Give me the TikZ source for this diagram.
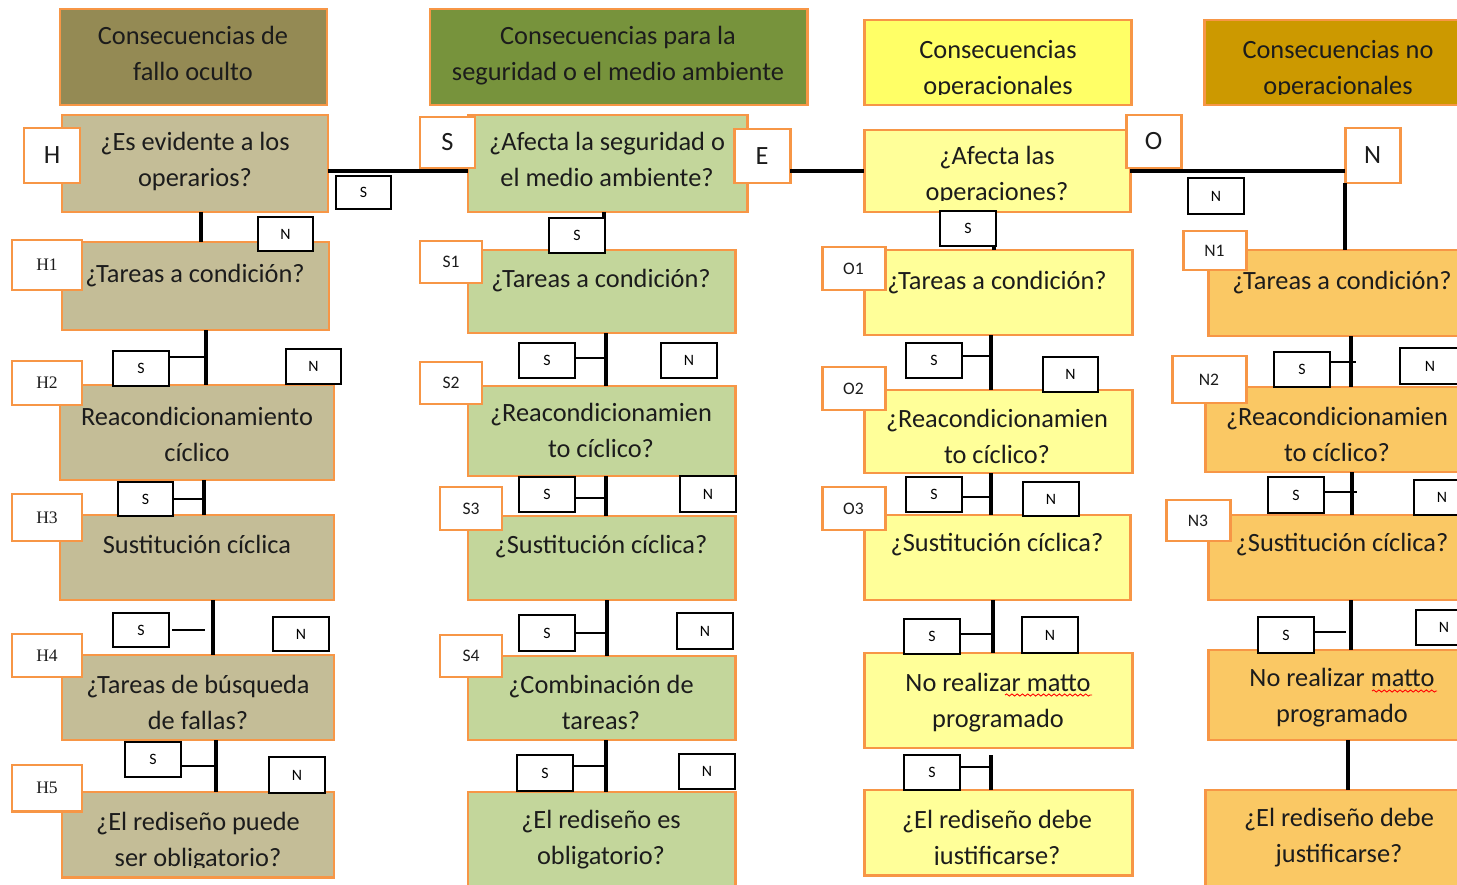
\documentclass[tikz,border=0pt]{standalone}
\usepackage{fontspec}
\setmainfont{Carlito}
\newfontfamily\lblserif{Liberation Serif}
\usetikzlibrary{decorations.pathmorphing}
\definecolor{borderor}{HTML}{F79646}
\definecolor{hhc}{HTML}{948A54}
\definecolor{hbc}{HTML}{C4BD97}
\definecolor{shc}{HTML}{77933C}
\definecolor{sbc}{HTML}{C3D69B}
\definecolor{ohc}{HTML}{FFFF66}
\definecolor{obc}{HTML}{FFFF99}
\definecolor{nhc}{HTML}{CC9900}
\definecolor{nbc}{HTML}{FAC864}
\definecolor{txtc}{HTML}{1C1C1C}
\tikzset{
 rb/.style={draw=borderor, line width=1.7pt, inner sep=0pt, outer sep=0pt},
 lbl/.style={rb, fill=white, font=\fontsize{15}{18}\selectfont, text=txtc},
 slbl/.style={rb, fill=white, font=\fontsize{10}{12}\selectfont, text=txtc},
 hlbl/.style={rb, fill=white, font=\lblserif\fontsize{10}{12}\selectfont, text=txtc},
 yn/.style={draw=black, line width=0.8pt, fill=white, inner sep=0pt, outer sep=0pt, font=\fontsize{9}{11}\selectfont},
 txt/.style={align=center, font=\fontsize{15}{20.4}\selectfont, text=txtc, inner sep=0pt},
 conn/.style={line width=2.2pt, black},
 stub/.style={line width=1.7pt, black},
 wavy/.style={red, line width=0.5pt, decorate, decoration={snake, amplitude=0.6pt, segment length=3pt}},
}
\newcommand\rbox[7]{\node[#6, minimum width={(#4-#2)*0.02cm}, minimum height={(#5-#3)*0.02cm}] (#1) at ({(#2+#4)/2},{(#3+#5)/2}) {#7};}
\begin{document}
\begin{tikzpicture}[x=0.02cm,y=-0.02cm]
\useasboundingbox (0,0) rectangle (1457,885);
\clip (0,0) rectangle (1457,885);
% ---------- headers ----------
\rbox{hh}{60}{9}{327}{105}{rb,fill=hhc}{}
\node[txt] (hht) at (193,55) {\strut Consecuencias de\\\strut fallo oculto};
\rbox{sh}{430}{9}{807}{105}{rb,fill=shc}{}
\node[txt] (sht) at (618,55) {\strut Consecuencias para la\\\strut seguridad o el medio ambiente};
\rbox{oh}{864}{20}{1131}{105}{rb,fill=ohc}{}
\begin{scope}\clip (864,20) rectangle (1131,95);
\node[txt] (oht) at (998,69) {\strut Consecuencias\\\strut operacionales};
\end{scope}
\rbox{nh}{1204}{20}{1480}{105}{rb,fill=nhc}{}
\begin{scope}\clip (1204,20) rectangle (1480,95);
\node[txt] (nht) at (1338,69) {\strut Consecuencias no\\\strut operacionales};
\end{scope}
% ---------- main boxes ----------
% H column
\rbox{h0}{62}{115}{328}{212}{rb,fill=hbc}{}
\node[txt] (h0t) at (195,161) {\strut ¿Es evidente a los\\\strut operarios?};
\rbox{h1}{62}{242}{329}{330}{rb,fill=hbc}{}
\node[txt] (h1t) at (195,275) {\strut ¿Tareas a condición?};
\rbox{h2}{60}{385}{334}{480}{rb,fill=hbc}{}
\node[txt] (h2t) at (197,436) {\strut Reacondicionamiento\\\strut cíclico};
\rbox{h3}{60}{515}{334}{600}{rb,fill=hbc}{}
\node[txt] (h3t) at (197,546) {\strut Sustitución cíclica};
\rbox{h4}{62}{655}{334}{740}{rb,fill=hbc}{}
\node[txt] (h4t) at (198,704) {\strut ¿Tareas de búsqueda\\\strut de fallas?};
\rbox{h5}{62}{792}{334}{877}{rb,fill=hbc}{}
\begin{scope}\clip (62,792) rectangle (334,867);
\node[txt] (h5t) at (198,841) {\strut ¿El rediseño puede\\\strut ser obligatorio?};
\end{scope}
% S column
\rbox{s0}{468}{115}{747}{212}{rb,fill=sbc}{}
\node[txt] (s0t) at (607,161) {\strut ¿Afecta la seguridad o\\\strut el medio ambiente?};
\rbox{s1}{468}{250}{735}{333}{rb,fill=sbc}{}
\node[txt] (s1t) at (601,280) {\strut ¿Tareas a condición?};
\rbox{s2}{468}{386}{735}{476}{rb,fill=sbc}{}
\node[txt] (s2t) at (601,432) {\strut ¿Reacondicionamien\\\strut to cíclico?};
\rbox{s3}{468}{516}{735}{600}{rb,fill=sbc}{}
\node[txt] (s3t) at (601,546) {\strut ¿Sustitución cíclica?};
\rbox{s4}{468}{656}{735}{740}{rb,fill=sbc}{}
\node[txt] (s4t) at (601,704) {\strut ¿Combinación de\\\strut tareas?};
\rbox{s5}{468}{792}{735}{892}{rb,fill=sbc}{}
\node[txt] (s5t) at (601,839) {\strut ¿El rediseño es\\\strut obligatorio?};
% O column
\rbox{o0}{864}{130}{1130}{212}{rb,fill=obc}{}
\begin{scope}\clip (864,130) rectangle (1130,201);
\node[txt] (o0t) at (997,175) {\strut ¿Afecta las\\\strut operaciones?};
\end{scope}
\rbox{o1}{864}{250}{1132}{335}{rb,fill=obc}{}
\node[txt] (o1t) at (997,282) {\strut ¿Tareas a condición?};
\rbox{o2}{864}{390}{1132}{473}{rb,fill=obc}{}
\node[txt] (o2t) at (997,438) {\strut ¿Reacondicionamien\\\strut to cíclico?};
\rbox{o3}{864}{515}{1130}{600}{rb,fill=obc}{}
\node[txt] (o3t) at (997,544) {\strut ¿Sustitución cíclica?};
\rbox{o4}{864}{653}{1132}{748}{rb,fill=obc}{}
\node[txt] (o4t) at (998,702) {\strut No realizar matto\\\strut programado};
\rbox{o5}{864}{790}{1132}{875}{rb,fill=obc}{}
\begin{scope}\clip (864,790) rectangle (1132,864);
\node[txt] (o5t) at (997,839) {\strut ¿El rediseño debe\\\strut justificarse?};
\end{scope}
% N column
\rbox{n1}{1208}{250}{1480}{336}{rb,fill=nbc}{}
\node[txt] (n1t) at (1342,282) {\strut ¿Tareas a condición?};
\rbox{n2}{1205}{387}{1480}{472}{rb,fill=nbc}{}
\node[txt] (n2t) at (1337,436) {\strut ¿Reacondicionamien\\\strut to cíclico?};
\rbox{n3}{1208}{515}{1480}{600}{rb,fill=nbc}{}
\node[txt] (n3t) at (1342,544) {\strut ¿Sustitución cíclica?};
\rbox{n4}{1208}{650}{1480}{740}{rb,fill=nbc}{}
\node[txt] (n4t) at (1342,697) {\strut No realizar matto\\\strut programado};
\rbox{n5}{1205}{790}{1480}{892}{rb,fill=nbc}{}
\node[txt] (n5t) at (1339,837) {\strut ¿El rediseño debe\\\strut justificarse?};
% spelling underline
\draw[wavy] (1005,695) -- (1092,695);
\draw[wavy] (1372,691) -- (1437,691);
% ---------- letter labels ----------
\rbox{lH}{24}{128}{80}{183}{lbl}{H}
\rbox{lS}{420}{117}{475}{168}{lbl}{S}
\rbox{lE}{734}{129}{790}{183}{lbl}{E}
\rbox{lO}{1126}{115}{1181}{168}{lbl}{O}
\rbox{lN}{1345}{128}{1400}{183}{lbl}{N}
\rbox{lH1}{12}{240}{82}{290}{hlbl}{H1}
\rbox{lH2}{12}{361}{82}{405}{hlbl}{H2}
\rbox{lH3}{12}{494}{82}{541}{hlbl}{H3}
\rbox{lH4}{12}{634}{82}{677}{hlbl}{H4}
\rbox{lH5}{12}{765}{82}{811}{hlbl}{H5}
\rbox{lS1}{420}{241}{482}{283}{slbl}{S1}
\rbox{lS2}{420}{362}{482}{404}{slbl}{S2}
\rbox{lS3}{440}{487}{502}{530}{slbl}{S3}
\rbox{lS4}{440}{635}{502}{677}{slbl}{S4}
\rbox{lO1}{822}{247}{885}{290}{slbl}{O1}
\rbox{lO2}{822}{367}{885}{410}{slbl}{O2}
\rbox{lO3}{822}{487}{885}{530}{slbl}{O3}
\rbox{lN1}{1183}{231}{1246}{270}{slbl}{N1}
\rbox{lN2}{1172}{356}{1246}{403}{slbl}{N2}
\rbox{lN3}{1166}{500}{1230}{541}{slbl}{N3}
% ---------- connector guides ----------
\coordinate (ly) at (0,171);
\coordinate (vH1) at (201,0); \coordinate (vH2) at (206,0); \coordinate (vH3) at (204,0);
\coordinate (vH4) at (213,0); \coordinate (vH5) at (216,0);
\coordinate (vS1) at (604,0); \coordinate (vS2) at (606,0); \coordinate (vS3) at (606,0);
\coordinate (vS4) at (607,0); \coordinate (vS5) at (606,0);
\coordinate (vO1) at (994,0); \coordinate (vO2) at (991,0); \coordinate (vO3) at (991,0);
\coordinate (vO4) at (993,0); \coordinate (vO5) at (991,0);
\coordinate (vN2) at (1351,0); \coordinate (vN3) at (1352,0); \coordinate (vN4) at (1351,0);
\coordinate (vN5) at (1348,0);
% top line
\draw[conn] (h0.east |- ly) -- (s0.west |- ly);
\draw[conn] (lE.east |- ly) -- (o0.west |- ly);
\draw[conn] (o0.east |- ly) -- (lN.west |- ly);
\draw[conn] (lN.south west) -- (lN.south west |- n1.north);
% H verticals
\draw[conn] (vH1 |- h0.south) -- (vH1 |- h1.north);
\draw[conn] (vH2 |- h1.south) -- (vH2 |- h2.north);
\draw[conn] (vH3 |- h2.south) -- (vH3 |- h3.north);
\draw[conn] (vH4 |- h3.south) -- (vH4 |- h4.north);
\draw[conn] (vH5 |- h4.south) -- (vH5 |- h5.north);
% S verticals
\draw[conn] (vS1 |- s0.south) -- (vS1 |- s1.north);
\draw[conn] (vS2 |- s1.south) -- (vS2 |- s2.north);
\draw[conn] (vS3 |- s2.south) -- (vS3 |- s3.north);
\draw[conn] (vS4 |- s3.south) -- (vS4 |- s4.north);
\draw[conn] (vS5 |- s4.south) -- (vS5 |- s5.north);
% O verticals
\draw[conn] (vO1 |- o0.south) -- (vO1 |- o1.north);
\draw[conn] (vO2 |- o1.south) -- (vO2 |- o2.north);
\draw[conn] (vO3 |- o2.south) -- (vO3 |- o3.north);
\draw[conn] (vO4 |- o3.south) -- (vO4 |- o4.north);
\draw[conn] ([yshift=-0.14cm]vO5 |- o4.south) -- (vO5 |- o5.north);
% N verticals
\draw[conn] (vN2 |- n1.south) -- (vN2 |- n2.north);
\draw[conn] (vN3 |- n2.south) -- (vN3 |- n3.north);
\draw[conn] (vN4 |- n3.south) -- (vN4 |- n4.north);
\draw[conn] (vN5 |- n4.south) -- (vN5 |- n5.north);
% ---------- S / N answer boxes ----------
\rbox{a0}{336}{176}{391}{209}{yn}{S}
\rbox{aON}{1188}{178}{1244}{214}{yn}{N}
\rbox{hN1}{258}{217}{313}{251}{yn}{N}
\rbox{hS2}{113}{351}{169}{386}{yn}{S}
\rbox{hN2}{286}{349}{341}{384}{yn}{N}
\rbox{hS3}{118}{482}{173}{516}{yn}{S}
\rbox{hS4}{113}{613}{169}{647}{yn}{S}
\rbox{hN4}{273}{617}{329}{651}{yn}{N}
\rbox{hS5}{125}{742}{181}{777}{yn}{S}
\rbox{hN5}{269}{757}{325}{793}{yn}{N}
\rbox{sS1}{549}{218}{605}{253}{yn}{S}
\rbox{sS2}{519}{343}{575}{378}{yn}{S}
\rbox{sN2}{661}{343}{717}{378}{yn}{N}
\rbox{sS3}{519}{477}{575}{512}{yn}{S}
\rbox{sN3}{680}{476}{736}{512}{yn}{N}
\rbox{sS4}{519}{615}{575}{651}{yn}{S}
\rbox{sN4}{677}{613}{733}{649}{yn}{N}
\rbox{sS5}{517}{755}{573}{791}{yn}{S}
\rbox{sN5}{679}{754}{735}{789}{yn}{N}
\rbox{oS1}{940}{211}{996}{246}{yn}{S}
\rbox{oS2}{906}{343}{962}{378}{yn}{S}
\rbox{oN2}{1043}{357}{1098}{392}{yn}{N}
\rbox{oS3}{906}{477}{962}{512}{yn}{S}
\rbox{oN3}{1023}{482}{1079}{516}{yn}{N}
\rbox{oS4}{904}{619}{960}{654}{yn}{S}
\rbox{oN4}{1022}{617}{1078}{653}{yn}{N}
\rbox{oS5}{904}{755}{960}{790}{yn}{S}
\rbox{nS2}{1274}{352}{1330}{387}{yn}{S}
\rbox{nN2}{1400}{348}{1460}{384}{yn}{N}
\rbox{nS3}{1268}{477}{1324}{513}{yn}{S}
\rbox{nN3}{1414}{480}{1470}{515}{yn}{N}
\rbox{nS4}{1258}{617}{1314}{653}{yn}{S}
\rbox{nN4}{1416}{610}{1472}{645}{yn}{N}
% ---------- stubs ----------
\draw[stub] (hS2.east |- 0,357) -- (vH2 |- 0,357);
\draw[stub] (hS3.east) -- (hS3.east -| vH3);
\draw[stub] ([xshift=0.06cm]hS4.east) -- ([xshift=-0.16cm]hS4.east -| vH4);
\draw[stub] (hS5.east |- 0,766) -- (vH5 |- 0,766);
\draw[stub] (sS2.east |- 0,358) -- (vS2 |- 0,358);
\draw[stub] (sS3.east |- 0,498) -- (vS3 |- 0,498);
\draw[stub] (sS4.east |- 0,633) -- (vS4 |- 0,633);
\draw[stub] (sS5.east |- 0,766) -- (vS5 |- 0,766);
\draw[stub] (oS2.east |- 0,356) -- (vO2 |- 0,356);
\draw[stub] (oS3.east |- 0,497) -- (vO3 |- 0,497);
\draw[stub] (oS4.east |- 0,634) -- (vO4 |- 0,634);
\draw[stub] (oS5.east |- 0,767) -- (vO5 |- 0,767);
\draw[stub] (nS2.east |- 0,362) -- ([xshift=0.1cm]vN2 |- 0,362);
\draw[stub] (nS3.east |- 0,492) -- ([xshift=0.1cm]vN3 |- 0,492);
\draw[stub] (nS4.east |- 0,632) -- ([xshift=-0.1cm]vN4 |- 0,632);
\end{tikzpicture}
\end{document}
